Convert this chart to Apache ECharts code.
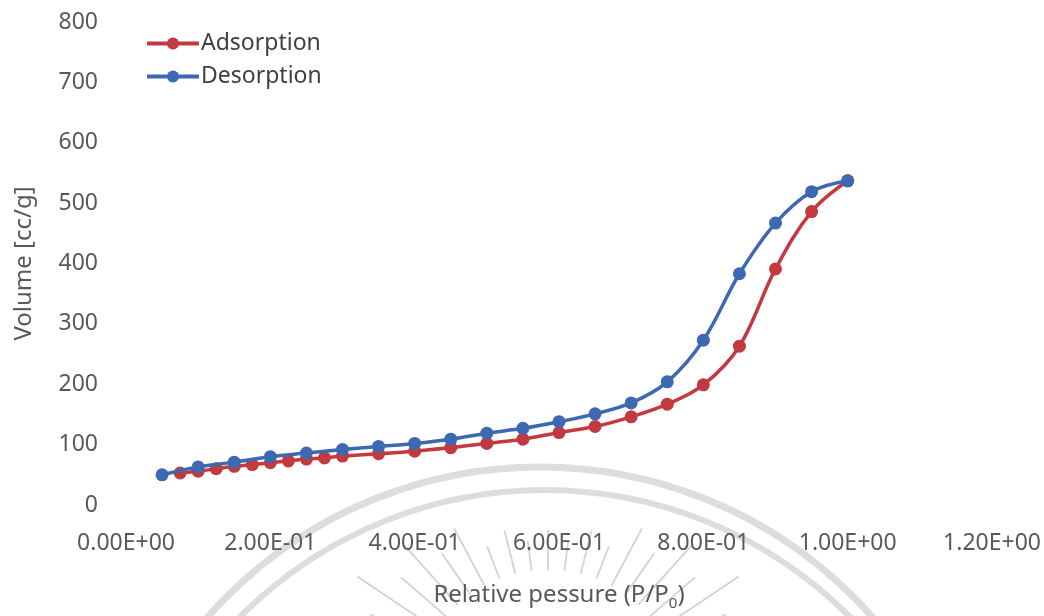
<!DOCTYPE html>
<html>
<head>
<meta charset="utf-8">
<script src="https://cdn.jsdelivr.net/npm/echarts@6/dist/echarts.min.js"></script>
<style>
  html, body { margin: 0; padding: 0; background: #ffffff; }
  #chart { width: 1044px; height: 616px; }
</style>
</head>
<body>
<div id="chart"></div>
<script>
// Relative pressure (P/P0) for each measured point
const adsorptionP = [0.075, 0.10, 0.125, 0.15, 0.175, 0.20, 0.225, 0.25, 0.275, 0.30,
  0.35, 0.40, 0.45, 0.50, 0.55, 0.60, 0.65, 0.70, 0.75, 0.80, 0.85, 0.90, 0.95, 1.00];
const adsorptionV = [53, 56, 60, 64, 67, 70, 73, 76, 78, 81,
  85, 89, 95, 102, 109, 120, 130, 146, 167, 199, 263, 391, 486, 537];

const desorptionP = [0.05, 0.10, 0.15, 0.20, 0.25, 0.30, 0.35, 0.40, 0.45, 0.50,
  0.55, 0.60, 0.65, 0.70, 0.75, 0.80, 0.85, 0.90, 0.95, 1.00];
const desorptionV = [50, 63, 71, 80, 86, 92, 97, 102, 109, 119,
  127, 138, 151, 169, 204, 273, 383, 467, 519, 537];

// Axis tick labels
const xTickLabels = ['0.00E+00', '2.00E-01', '4.00E-01', '6.00E-01', '8.00E-01', '1.00E+00', '1.20E+00'];
const yTickLabels = ['0', '100', '200', '300', '400', '500', '600', '700', '800'];

const seriesNames = ['Adsorption', 'Desorption'];
const RED = '#C23A3F';
const BLUE = '#3D68B2';
const LABEL_GREY = '#595959';
const FONT = '"Noto Sans", "Open Sans", sans-serif';

const zip = (xs, ys) => xs.map((x, i) => [x, ys[i]]);

// Faint seal drawn behind the plot: two arcs and a fan of rays
const SEAL_GREY = '#dddddd';
const RAY_GREY = '#d2d2d2';
const rayAngles = [-70, -63, -56, -49, -42, -35, -28, -21, -14, -7, 0, 7, 14, 21, 28, 35, 42, 49, 56, 63, 70];
const rayOuter = [235, 200, 230, 195, 215, 185, 200, 170, 180, 165, 175, 165, 180, 170, 200, 185, 215, 195, 230, 200, 235];
const rayCx = 548, rayCy = 705, rayInner = 135;
const rays = rayAngles.map((a, i) => {
  const t = a * Math.PI / 180;
  return {
    type: 'line',
    silent: true,
    z: 0,
    shape: {
      x1: rayCx + rayInner * Math.sin(t), y1: rayCy - rayInner * Math.cos(t),
      x2: rayCx + rayOuter[i] * Math.sin(t), y2: rayCy - rayOuter[i] * Math.cos(t)
    },
    style: { stroke: RAY_GREY, lineWidth: 1.8 }
  };
});

const chart = echarts.init(document.getElementById('chart'), null, { renderer: 'canvas' });

chart.setOption({
  backgroundColor: '#ffffff',
  animation: false,
  textStyle: { fontFamily: FONT },
  graphic: [
    {
      type: 'circle', silent: true, z: 0,
      shape: { cx: 540, cy: 910, r: 443 },
      style: { fill: null, stroke: SEAL_GREY, lineWidth: 7 }
    },
    {
      type: 'circle', silent: true, z: 0,
      shape: { cx: 545, cy: 920, r: 430 },
      style: { fill: null, stroke: SEAL_GREY, lineWidth: 6 }
    }
  ].concat(rays),
  grid: {
    left: 126,
    right: 52,
    top: 22,
    bottom: 102,
    containLabel: false
  },
  legend: {
    orient: 'vertical',
    left: 140,
    top: 27,
    itemWidth: 52,
    itemHeight: 15,
    itemGap: 10,
    data: seriesNames,
    lineStyle: { width: 4 },
    textStyle: { fontSize: 23, color: '#404040', fontFamily: FONT, padding: [0, 0, 0, -3] }
  },
  xAxis: {
    type: 'value',
    min: 0,
    max: 1.2,
    interval: 0.2,
    name: 'Relative pessure (P/P{sub|0})',
    nameLocation: 'middle',
    nameGap: 75,
    nameTextStyle: {
      fontSize: 24,
      color: LABEL_GREY,
      fontFamily: FONT,
      rich: {
        sub: { fontSize: 15, color: LABEL_GREY, verticalAlign: 'bottom', padding: [16, 0, 0, 0] }
      }
    },
    axisLine: { show: false },
    axisTick: { show: false },
    splitLine: { show: false },
    axisLabel: {
      margin: 27,
      fontSize: 23,
      color: LABEL_GREY,
      fontFamily: FONT,
      formatter: v => xTickLabels[Math.round(v / 0.2)]
    }
  },
  yAxis: {
    type: 'value',
    min: 0,
    max: 800,
    interval: 100,
    name: 'Volume [cc/g]',
    nameLocation: 'middle',
    nameGap: 90,
    nameTextStyle: { fontSize: 24, color: LABEL_GREY, fontFamily: FONT },
    axisLine: { show: false },
    axisTick: { show: false },
    splitLine: { show: false },
    axisLabel: {
      margin: 28,
      fontSize: 23,
      color: LABEL_GREY,
      fontFamily: FONT,
      formatter: v => yTickLabels[Math.round(v / 100)]
    }
  },
  series: [
    {
      name: seriesNames[0],
      type: 'line',
      data: zip(adsorptionP, adsorptionV),
      smooth: 0.35,
      symbol: 'circle',
      symbolSize: 13,
      color: RED,
      lineStyle: { width: 3.5, color: RED },
      itemStyle: { color: RED },
      z: 3
    },
    {
      name: seriesNames[1],
      type: 'line',
      data: zip(desorptionP, desorptionV),
      smooth: 0.35,
      symbol: 'circle',
      symbolSize: 13,
      color: BLUE,
      lineStyle: { width: 3.5, color: BLUE },
      itemStyle: { color: BLUE },
      z: 4
    }
  ]
});
</script>
</body>
</html>
